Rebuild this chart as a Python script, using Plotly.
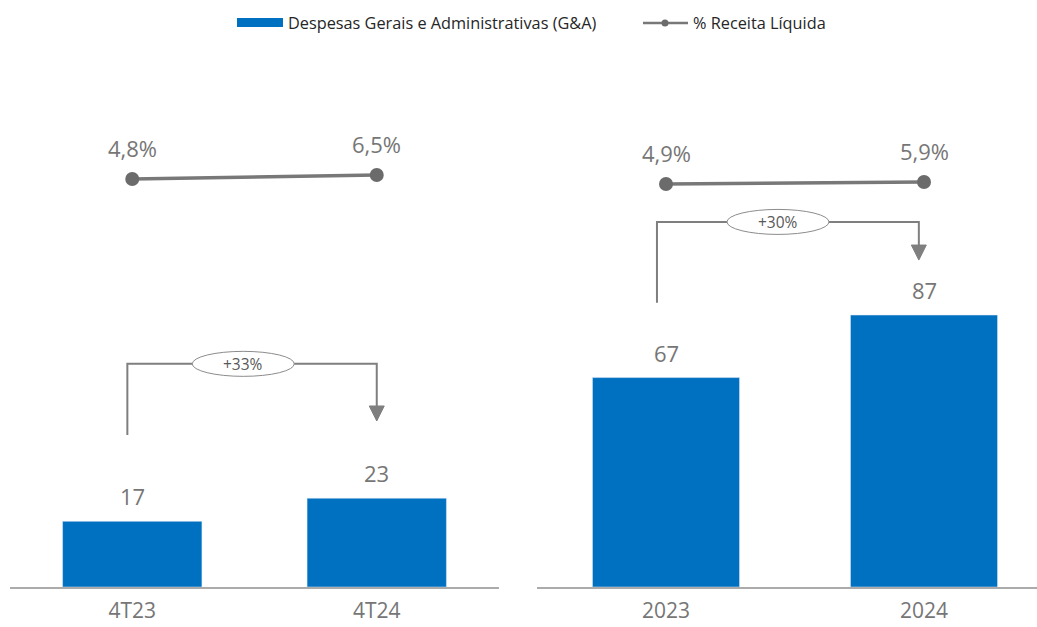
import plotly.graph_objects as go

# Despesas G&A (R$ milhões) e % da receita líquida
periodos_tri = ["4T23", "4T24"]
ga_tri = [17, 23]
pct_tri = [4.8, 6.5]
pct_tri_txt = ["4,8%", "6,5%"]
var_tri = "+33%"

periodos_ano = ["2023", "2024"]
ga_ano = [67, 87]
pct_ano = [4.9, 5.9]
pct_ano_txt = ["4,9%", "5,9%"]
var_ano = "+30%"

serie_barra = "Despesas Gerais e Administrativas (G&A)"
serie_linha = "% Receita Líquida"

AZUL = "#0070C0"
CINZA_LINHA = "#787878"
CINZA_MARCA = "#6B6B6B"
CINZA_TXT = "#767676"
CINZA_EIXO = "#ABABAB"
FONTE = "Open Sans"

W, H = 1037, 627
M_L, M_R, M_T, M_B = 10, 0, 60, 40
PW = W - M_L - M_R
PH = H - M_T - M_B

# escalas (unidades por eixo)
Y_TRI = [0, 136.5]
Y2_TRI = [-168.6, 55.4]
Y_ANO = [0, 168.6]
Y2_ANO = [-196.6, 66.9]
X_TRI = [-0.5, 1.5]
X_ANO = [-0.5, 1.438]
DOM_TRI = [0, 489 / PW]
DOM_ANO = [527 / PW, 1]

fig = go.Figure()

fig.add_trace(go.Bar(x=periodos_tri, y=ga_tri, xaxis="x", yaxis="y",
                     marker_color=AZUL, width=0.57, showlegend=False,
                     name=serie_barra))
fig.add_trace(go.Scatter(x=periodos_tri, y=pct_tri, xaxis="x", yaxis="y2",
                         mode="lines+markers", showlegend=False, name=serie_linha,
                         line=dict(color=CINZA_LINHA, width=3.5),
                         marker=dict(color=CINZA_MARCA, size=14)))
fig.add_trace(go.Bar(x=periodos_ano, y=ga_ano, xaxis="x2", yaxis="y3",
                     marker_color=AZUL, width=0.57, showlegend=False,
                     name=serie_barra))
fig.add_trace(go.Scatter(x=periodos_ano, y=pct_ano, xaxis="x2", yaxis="y4",
                         mode="lines+markers", showlegend=False, name=serie_linha,
                         line=dict(color=CINZA_LINHA, width=3.5),
                         marker=dict(color=CINZA_MARCA, size=14)))

shapes = []
annotations = []

# rótulos de valor (posição pelo índice da categoria)
for xr, yr, vals in (("x", "y", ga_tri), ("x2", "y3", ga_ano)):
    for i, v in enumerate(vals):
        annotations.append(dict(x=i, y=v, xref=xr, yref=yr, text=str(v), showarrow=False,
                                yanchor="middle", yshift=25,
                                font=dict(family=FONTE, size=22, color=CINZA_TXT)))
for xr, yr, vals, txts in (("x", "y2", pct_tri, pct_tri_txt),
                           ("x2", "y4", pct_ano, pct_ano_txt)):
    for i, (v, t) in enumerate(zip(vals, txts)):
        annotations.append(dict(x=i, y=v, xref=xr, yref=yr, text=t, showarrow=False,
                                yanchor="middle", yshift=31,
                                font=dict(family=FONTE, size=22, color=CINZA_TXT)))


def colchete(xr, yr, xrange, yrange, dom, base_y, topo_y, ponta_y, x_esq, x_dir, x_elipse, texto):
    """Colchete com seta indicando a variação entre os dois períodos."""
    upx = (xrange[1] - xrange[0]) / ((dom[1] - dom[0]) * PW)   # unidades x por pixel
    upy = (yrange[1] - yrange[0]) / PH                          # unidades y por pixel
    cor = "#7F7F7F"
    shapes.append(dict(type="path", xref=xr, yref=yr,
                       path=f"M {x_esq},{base_y} L {x_esq},{topo_y} L {x_dir},{topo_y} "
                            f"L {x_dir},{ponta_y + 15 * upy}",
                       line=dict(color=cor, width=2)))
    hw = 7.5 * upx
    shapes.append(dict(type="path", xref=xr, yref=yr,
                       path=f"M {x_dir - hw},{ponta_y + 15 * upy} L {x_dir + hw},{ponta_y + 15 * upy} "
                            f"L {x_dir},{ponta_y} Z",
                       fillcolor=cor, line=dict(color=cor, width=1)))
    rx, ry = 51 * upx, 12.5 * upy
    shapes.append(dict(type="circle", xref=xr, yref=yr,
                       x0=x_elipse - rx, x1=x_elipse + rx, y0=topo_y - ry, y1=topo_y + ry,
                       fillcolor="white", line=dict(color="#8C8C8C", width=1)))
    annotations.append(dict(x=x_elipse, y=topo_y, xref=xr, yref=yr, text=texto, showarrow=False,
                            font=dict(family=FONTE, size=15.5, color="#595959")))


colchete("x", "y", X_TRI, Y_TRI, DOM_TRI, 39.4, 57.8, 43.0, -0.02, 1.0, 0.454, var_tri)
colchete("x2", "y3", X_ANO, Y_ANO, DOM_ANO, 90.9, 116.8, 104.6, -0.035, 0.98, 0.434, var_ano)


# legenda
def px_x(p):
    return (p - M_L) / PW


def px_y(p):
    return (H - M_B - p) / PH


shapes.append(dict(type="rect", xref="paper", yref="paper",
                   x0=px_x(237), x1=px_x(283), y0=px_y(27), y1=px_y(18),
                   fillcolor=AZUL, line=dict(width=0)))
annotations.append(dict(x=px_x(286), y=px_y(23), xref="paper", yref="paper", text=serie_barra,
                        showarrow=False, xanchor="left", yanchor="middle",
                        font=dict(family=FONTE, size=16.3, color="#262626")))
shapes.append(dict(type="line", xref="paper", yref="paper",
                   x0=px_x(643), x1=px_x(688), y0=px_y(23), y1=px_y(23),
                   line=dict(color=CINZA_LINHA, width=2.5)))
shapes.append(dict(type="circle", xref="paper", yref="paper",
                   x0=px_x(661.5), x1=px_x(668.5), y0=px_y(26.5), y1=px_y(19.5),
                   fillcolor=CINZA_MARCA, line=dict(width=0)))
annotations.append(dict(x=px_x(691), y=px_y(23), xref="paper", yref="paper", text=serie_linha,
                        showarrow=False, xanchor="left", yanchor="middle",
                        font=dict(family=FONTE, size=16.3, color="#262626")))

eixo_x = dict(type="category", showline=True, linecolor=CINZA_EIXO, linewidth=2,
              showgrid=False, zeroline=False, ticks="outside", ticklen=4,
              tickcolor="rgba(0,0,0,0)", tickfont=dict(family=FONTE, size=21, color=CINZA_TXT),
              automargin=False, fixedrange=True)
eixo_y = dict(visible=False, showgrid=False, zeroline=False, fixedrange=True)

fig.update_layout(
    width=W, height=H,
    margin=dict(l=M_L, r=M_R, t=M_T, b=M_B),
    paper_bgcolor="white", plot_bgcolor="white",
    barmode="group",
    xaxis=dict(eixo_x, domain=DOM_TRI, anchor="y", range=X_TRI),
    xaxis2=dict(eixo_x, domain=DOM_ANO, anchor="y3", range=X_ANO),
    yaxis=dict(eixo_y, domain=[0, 1], anchor="x", range=Y_TRI),
    yaxis2=dict(eixo_y, overlaying="y", anchor="x", range=Y2_TRI),
    yaxis3=dict(eixo_y, domain=[0, 1], anchor="x2", range=Y_ANO),
    yaxis4=dict(eixo_y, overlaying="y3", anchor="x2", range=Y2_ANO),
    shapes=shapes,
    annotations=annotations,
    showlegend=False,
)

fig.write_html("out.html")
